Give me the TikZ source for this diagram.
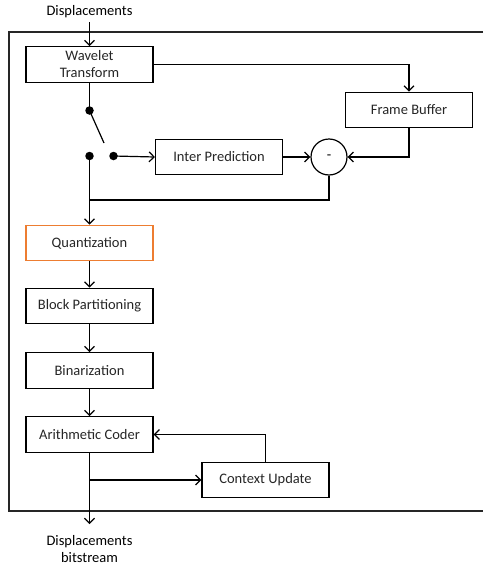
\documentclass[tikz,border=0pt]{standalone}
\usepackage{fontspec}
\setmainfont{Carlito}
\usetikzlibrary{arrows.meta,calc}
\definecolor{quantorange}{HTML}{ED7D31}
\begin{document}
\begin{tikzpicture}[x=1pt,y=-1pt,
  line width=1.2pt,
  font=\fontsize{14.5}{17}\selectfont,
  arr/.style={-{Straight Barb[length=5pt,width=10pt,line width=1.2pt]}},
  blk/.style={draw,rectangle,minimum width=127pt,minimum height=35.5pt,inner sep=1pt,align=center,text=black!85},
  dot/.style={circle,fill=black,inner sep=0pt,minimum size=8.5pt},
  sumnode/.style={draw,circle,minimum size=36pt,inner sep=0pt}]
\useasboundingbox (0,0) rectangle (483,565);

% encoder frame (open on the right)
\draw[line width=1.5pt,black!85] (483,32) -- (9,32) -- (9,511) -- (483,511);

% blocks
\node[blk] (wt) at (89.5,64.5) {Wavelet\\Transform};
\node[blk] (fb) at (409,110) {Frame Buffer};
\node[blk] (ip) at (219,157) {Inter Prediction};
\node[sumnode] (sub) at (329,157) {-};
\node[blk,draw=quantorange] (q) at (89.5,243) {Quantization};
\node[blk] (bp) at (89.5,306) {Block Partitioning};
\node[blk] (bin) at (89.5,370.5) {Binarization};
\node[blk] (ac) at (89.5,434.5) {Arithmetic Coder};
\node[blk] (cu) at (265.5,480) {Context Update};

% inputs and outputs
\node (in) at (89.5,12) {Displacements};
\node[align=center] (out) at (89.5,549) {Displacements\\bitstream};

% switch contacts
\node[dot] (s0) at (89.5,110.5) {};
\node[dot] (s1) at (89.5,156) {};
\node[dot] (s2) at (113.5,156) {};
\coordinate (lever) at (104,143);
\coordinate (join) at (89.5,200);
\coordinate (split) at (89.5,480);

% connectors
\draw[arr] (89.5,22) -- (wt.north);
\draw[arr] (wt.east) -| (fb.north);
\draw (wt.south) -- (s0.center);
\draw (s0.center) -- (lever);
\draw[arr] (s2.center) -- (ip.west);
\draw[arr] (s1.center) -- (q.north);
\draw[arr] (ip.east) -- (sub.west);
\draw[arr] (fb.south) |- (sub.east);
\draw (sub.south) |- (join);
\draw[arr] (q.south) -- (bp.north);
\draw[arr] (bp.south) -- (bin.north);
\draw[arr] (bin.south) -- (ac.north);
\draw[arr] (ac.south) -- (89.5,524);
\draw[arr] (split) -- (cu.west);
\draw[arr] (cu.north) |- (ac.east);
\end{tikzpicture}
\end{document}
